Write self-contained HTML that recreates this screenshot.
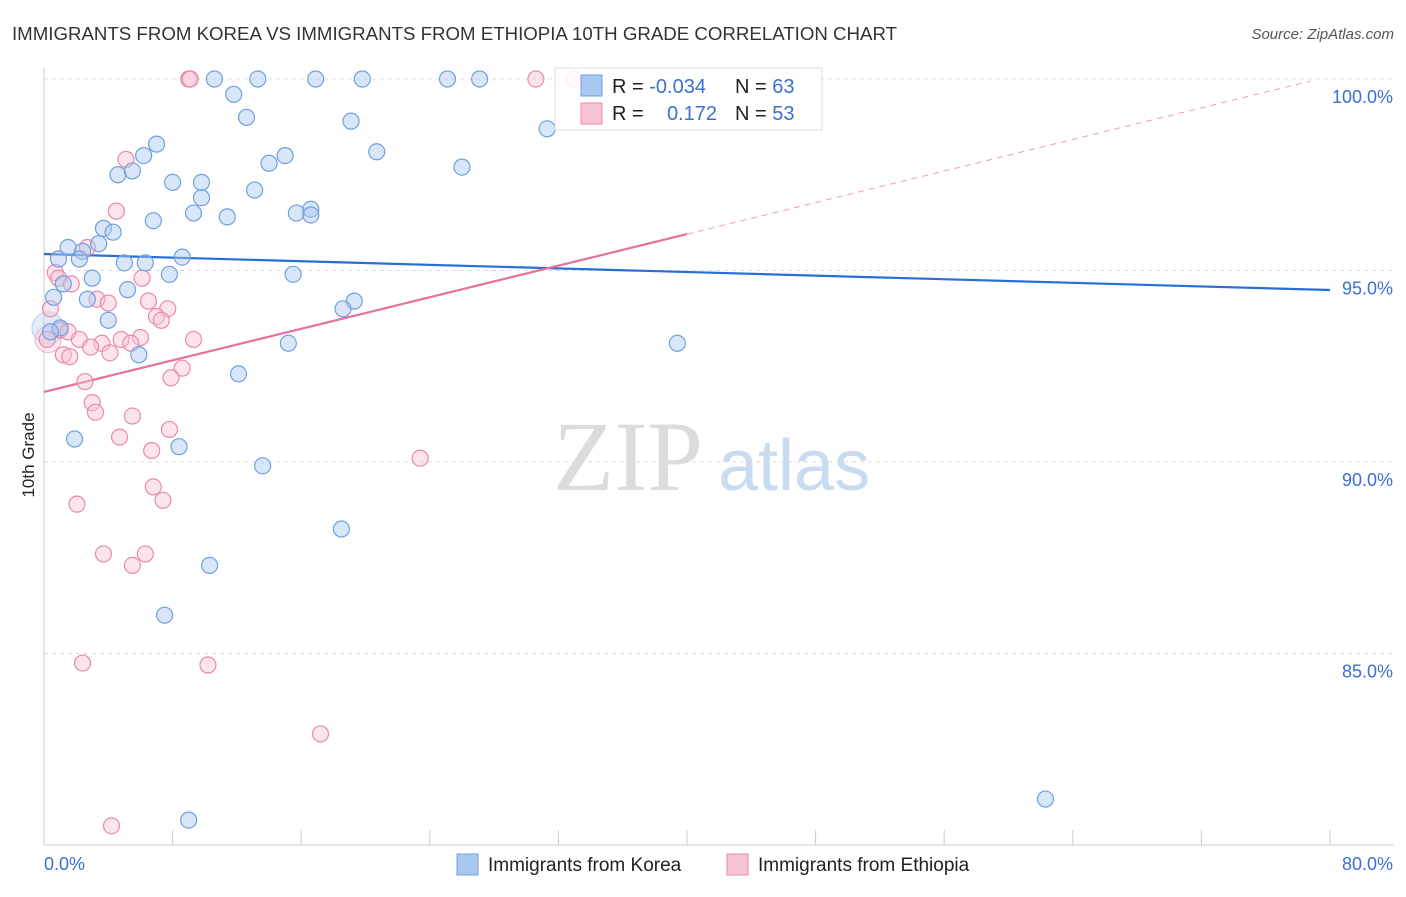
<!DOCTYPE html>
<html><head><meta charset="utf-8"><style>
body{margin:0;background:#fff;font-family:"Liberation Sans",sans-serif;}
svg text{font-family:"Liberation Sans",sans-serif;}
</style></head><body>
<svg id="chart" width="1406" height="892">
<text x="12" y="40" font-size="18" fill="#333" textLength="885" lengthAdjust="spacingAndGlyphs">IMMIGRANTS FROM KOREA VS IMMIGRANTS FROM ETHIOPIA 10TH GRADE CORRELATION CHART</text>
<text x="1394" y="39" font-size="15" fill="#555" font-style="italic" text-anchor="end">Source: ZipAtlas.com</text>
<text x="34" y="455" font-size="17" fill="#222" transform="rotate(-90 34 455)" text-anchor="middle">10th Grade</text>
<g>
<text x="553" y="490" font-size="100" fill="#dcdcdc" style="font-family:'Liberation Serif',serif">ZIP</text>
<text x="718" y="490" font-size="72" fill="#c9dbf0">atlas</text>
</g>
<g id="grid"></g><g id="axes"></g><g id="lines"></g><g id="pts"></g>
<g>
<rect x="555" y="68" width="267" height="62" fill="#fff" fill-opacity="0.85" stroke="#ddd"/>
<rect x="581" y="75" width="21" height="21" fill="#a8c8f0" stroke="#6fa0e0"/>
<rect x="581" y="103" width="21" height="21" fill="#f8c4d4" stroke="#e88aa8"/>
<text x="612" y="93" font-size="20" fill="#222">R = <tspan fill="#3b6fd0">-0.034</tspan></text>
<text x="735" y="93" font-size="20" fill="#222">N = <tspan fill="#3b6fd0">63</tspan></text>
<text x="612" y="120" font-size="20" fill="#222">R = </text>
<text x="717" y="120" font-size="20" fill="#3b6fd0" text-anchor="end">0.172</text>
<text x="735" y="120" font-size="20" fill="#222">N = <tspan fill="#3b6fd0">53</tspan></text>
</g>
<g>
<rect x="457" y="854" width="21" height="21" fill="#a8c8f0" stroke="#6fa0e0"/>
<text x="488" y="871" font-size="19" fill="#222">Immigrants from Korea</text>
<rect x="727" y="854" width="21" height="21" fill="#f8c4d4" stroke="#e88aa8"/>
<text x="758" y="871" font-size="19" fill="#222">Immigrants from Ethiopia</text>
</g>
</svg>
<script>
const xTicks=[0,8,16,24,32,40,48,56,64,72,80];
const yTicks=[100,95,90,85];
const yTickLabels=["100.0%","95.0%","90.0%","85.0%"];
const koreaX=[10.6,13.3,16.9,19.8,25.1,27.1,11.8,12.6,19.1,31.3,7.0,6.2,20.7,15.0,14.0,26.0,4.6,5.5,8.0,9.8,13.1,9.8,9.3,6.8,11.4,15.7,16.6,16.6,3.7,4.3,1.5,3.4,2.4,0.9,2.2,8.6,6.3,5.0,7.8,15.5,3.0,1.2,5.2,0.6,2.7,19.3,18.6,4.0,1.0,0.4,15.2,39.4,5.9,12.1,1.9,8.4,13.6,18.5,10.3,7.5,62.3,9.0];
const koreaY=[100,100,100,100,100,100,99.6,99.0,98.9,98.7,98.3,98.0,98.1,98.0,97.8,97.7,97.5,97.6,97.3,97.3,97.1,96.9,96.5,96.3,96.4,96.5,96.6,96.45,96.1,96.0,95.6,95.7,95.5,95.3,95.3,95.35,95.2,95.2,94.9,94.9,94.8,94.65,94.5,94.3,94.25,94.2,94.0,93.7,93.5,93.4,93.1,93.1,92.8,92.3,90.6,90.4,89.9,88.25,87.3,86.0,81.2,80.65];
const ethX=[9.0,9.1,30.6,33.0,5.1,4.5,2.7,0.7,0.9,1.7,6.1,3.3,4.0,6.5,7.7,7.0,7.3,0.4,1.0,1.5,2.2,0.2,6.0,9.3,4.8,3.6,5.4,2.9,4.1,1.2,1.6,8.6,7.9,2.55,3.0,3.2,5.5,4.7,7.8,6.7,23.4,6.8,7.4,2.05,3.7,6.3,5.5,2.4,10.2,17.2,4.2];
const ethY=[100,100,100,100,97.9,96.55,95.6,94.95,94.8,94.65,94.8,94.25,94.15,94.2,94.0,93.8,93.7,94.0,93.45,93.4,93.2,93.2,93.25,93.2,93.2,93.1,93.1,93.0,92.85,92.8,92.75,92.45,92.2,92.1,91.55,91.3,91.2,90.65,90.85,90.3,90.1,89.35,89.0,88.9,87.6,87.6,87.3,84.75,84.7,82.9,80.5];
const bigX=[0.25,0.25], bigY=[93.5,93.2];
const koreaTrend=[95.43,94.49];
const ethTrend=[91.83,0.103];
const NS="http://www.w3.org/2000/svg";
const X=v=>44+v*16.075, Y=v=>79+(100-v)*38.3;
function mk(t,a,p){const e=document.createElementNS(NS,t);for(const k in a)e.setAttribute(k,a[k]);p.appendChild(e);return e;}
const g=document.getElementById('grid'),ax=document.getElementById('axes'),ln=document.getElementById('lines'),pt=document.getElementById('pts');
yTicks.forEach((v,i)=>{
 const l=mk('line',{x1:44,x2:1394,y1:Y(v),y2:Y(v),stroke:'#ddd','stroke-dasharray':'4,4'},g);
 
 
 const t=mk('text',{x:1393,y:Y(v)+24,'font-size':18,fill:'#3b6fd0','text-anchor':'end'},ax);
 t.textContent=yTickLabels[i];
 
 
});
const ya=mk('line',{x1:44,x2:44,y1:68,y2:845,stroke:'#ccc'},ax);


const xa=mk('line',{x1:44,x2:1394,y1:845,y2:845,stroke:'#ccc'},ax);


xTicks.forEach(v=>{
 const t=mk('line',{x1:X(v),x2:X(v),y1:830,y2:845,stroke:'#ccc'},ax);
 
 
});
[[0,'start',44],[80,'end',1393]].forEach(([v,a,x])=>{
 const t=mk('text',{x:x,y:870,'font-size':18,fill:'#3b6fd0','text-anchor':a},ax);
 t.textContent=v.toFixed(1)+'%';
 
 
});
function dot(x,y,r,f,s,n,o){const c=mk('circle',{cx:X(x),cy:Y(y),r:r,fill:f,'fill-opacity':o,stroke:s,'stroke-width':1.2},pt);
 
 }
dot(bigX[0],bigY[0],16,'#a8c8f0','#c0d6f2','korea-point-large',0.35);
dot(bigX[1],bigY[1],13,'#f8c4d4','#f0b8cc','ethiopia-point-large',0.35);
ethX.forEach((x,i)=>dot(x,ethY[i],8,'#f8c4d4','#e88aa8','ethiopia-point',0.45));
koreaX.forEach((x,i)=>dot(x,koreaY[i],8,'#a8c8f0','#6fa0e0','korea-point',0.45));
const kl=mk('line',{x1:X(0),y1:Y(koreaTrend[0]),x2:X(80),y2:Y(koreaTrend[1]),stroke:'#2a6fd6','stroke-width':2.2},ln);


const ey=x=>ethTrend[0]+ethTrend[1]*x;
const el1=mk('line',{x1:X(0),y1:Y(ey(0)),x2:X(40),y2:Y(ey(40)),stroke:'#e8709a','stroke-width':2.2},ln);


const el2=mk('line',{x1:X(40),y1:Y(ey(40)),x2:X(78.8),y2:Y(ey(78.8)),stroke:'#e8a0b8','stroke-width':1,'stroke-dasharray':'6,5'},ln);


</script>
</body></html>
